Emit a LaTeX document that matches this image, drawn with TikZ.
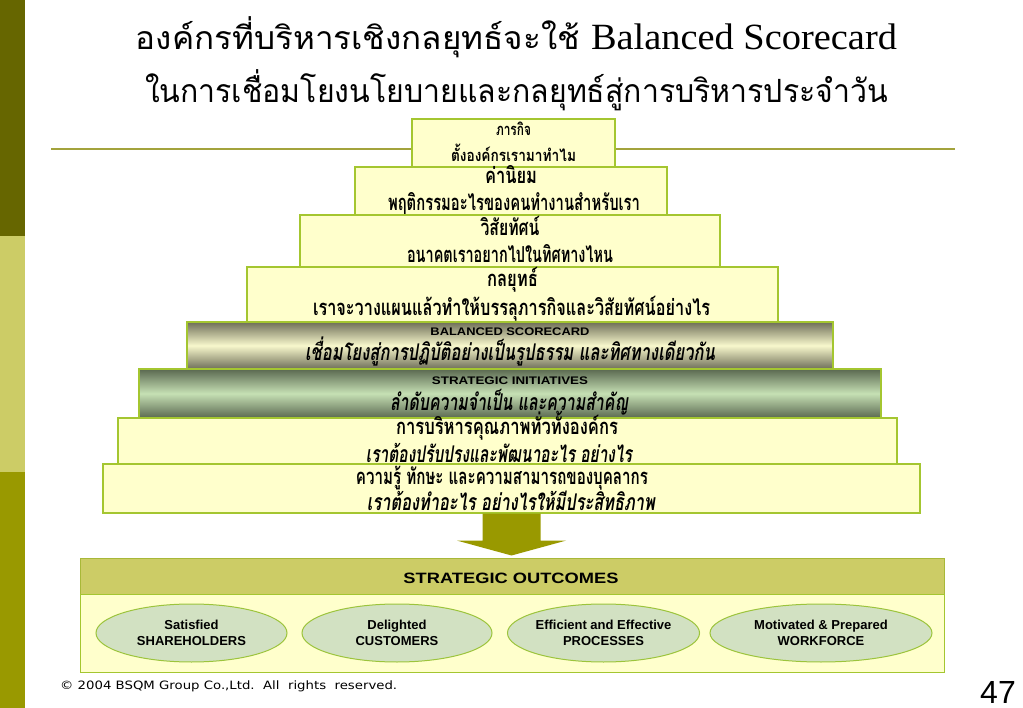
\documentclass[tikz,border=0pt]{standalone}
\usepackage{fontspec}
\usepackage{graphicx}
\usetikzlibrary{calc,shapes.geometric}
\newfontfamily\thai[Script=Thai]{Loma}
\newfontfamily\arialf{Liberation Sans}
\newfontfamily\verd{DejaVu Sans}
\newfontfamily\serifl{Liberation Serif}
\definecolor{barA}{HTML}{666600}
\definecolor{barB}{HTML}{CCCC66}
\definecolor{barC}{HTML}{999900}
\definecolor{rulec}{HTML}{A3A33C}
\definecolor{boxfill}{HTML}{FFFFCC}
\definecolor{boxline}{HTML}{A4C630}
\definecolor{bscdark}{HTML}{6E6E58}
\definecolor{bsclight}{HTML}{F8F8CC}
\definecolor{sidark}{HTML}{5A6850}
\definecolor{silight}{HTML}{C6E0B4}
\definecolor{hdrfill}{HTML}{CCCC66}
\definecolor{hdrline}{HTML}{A8B838}
\definecolor{ellfill}{HTML}{D2E1C2}
\definecolor{ellline}{HTML}{9CC43C}
\definecolor{arrowc}{HTML}{999900}
\newcommand\fw[2]{\resizebox{#1pt}{\height}{#2}}
\tikzset{
  pbox/.style={draw=boxline, fill=boxfill, line width=1.2pt, inner sep=0pt},
  bscbox/.style={draw=boxline, line width=1.2pt, inner sep=0pt, top color=bscdark, bottom color=bscdark, middle color=bsclight},
  sibox/.style={draw=boxline, line width=1.2pt, inner sep=0pt, top color=sidark, bottom color=sidark, middle color=silight},
  thb/.style={font=\thai\bfseries\fontsize{22}{22}\selectfont, inner sep=0pt, anchor=base},
  thsm/.style={font=\thai\bfseries\fontsize{16.5}{16.5}\selectfont, inner sep=0pt, anchor=base},
  thi/.style={font=\thai\bfseries\itshape\fontsize{23}{23}\selectfont, inner sep=0pt, anchor=base},
  engb/.style={font=\arialf\bfseries\fontsize{11}{11}\selectfont, inner sep=0pt, anchor=base},
  outc/.style={ellipse, draw=ellline, fill=ellfill, line width=1pt, inner sep=0pt, align=center,
    font=\arialf\bfseries\fontsize{13}{16}\selectfont},
  titleth/.style={font=\thai\fontsize{32}{32}\selectfont, inner sep=0pt, anchor=base},
}
\begin{document}
\begin{tikzpicture}[x=1pt,y=-1pt]
\useasboundingbox (0,0) rectangle (1023,708);
% left bar
\fill[barA] (0,0) rectangle (25,236);
\fill[barB] (0,236) rectangle (25,472);
\fill[barC] (0,472) rectangle (25,708);
% title
\node[titleth] (t1) at (516.5,50) {\fw{761}{องค์กรที่บริหารเชิงกลยุทธ์จะใช้ {\serifl\fontsize{37}{37}\selectfont Balanced Scorecard}}};
\node[titleth] (t2) at (516.5,103) {\fw{743}{ในการเชื่อมโยงนโยบายและกลยุทธ์สู่การบริหารประจำวัน}};
% rule
\coordinate (rl) at (51,149);
\coordinate (rr) at (955,149);
\draw[rulec, line width=2pt] (rl) -- (rr);
% pyramid
\node[pbox, minimum width=203, minimum height=48] (b1) at (513.5,143) {};
\node[thsm] (b1a) at (513.5,136) {\fw{35}{ภารกิจ}};
\node[thsm] (b1b) at (513.5,162) {\fw{125}{ตั้งองค์กรเรามาทำไม}};
\node[pbox, minimum width=312, minimum height=48] (b2) at (511,191) {};
\node[thb] (b2a) at (511,184) {\fw{52}{ค่านิยม}};
\node[thb] (b2b) at (514,211) {\fw{252}{พฤติกรรมอะไรของคนทำงานสำหรับเรา}};
\node[pbox, minimum width=420, minimum height=52] (b3) at (510,241) {};
\node[thb] (b3a) at (510,236) {\fw{59}{วิสัยทัศน์}};
\node[thb] (b3b) at (510,263) {\fw{206}{อนาคตเราอยากไปในทิศทางไหน}};
\node[pbox, minimum width=531, minimum height=55] (b4) at (512.5,294.5) {};
\node[thb] (b4a) at (512.5,287) {\fw{51}{กลยุทธ์}};
\node[thb] (b4b) at (511.5,316) {\fw{397}{เราจะวางแผนแล้วทำให้บรรลุภารกิจและวิสัยทัศน์อย่างไร}};
\node[bscbox, minimum width=646, minimum height=47] (b5) at (510,345.5) {};
\node[engb] (b5a) at (510,336) {\fw{159}{BALANCED SCORECARD}};
\node[thi] (b5b) at (510,361) {\fw{410}{เชื่อมโยงสู่การปฏิบัติอย่างเป็นรูปธรรม และทิศทางเดียวกัน}};
\node[sibox, minimum width=742, minimum height=49] (b6) at (510,393.5) {};
\node[engb] (b6a) at (510,385) {\fw{156}{STRATEGIC INITIATIVES}};
\node[thi] (b6b) at (509,410) {\fw{238}{ลำดับความจำเป็น และความสำคัญ}};
\node[pbox, minimum width=779, minimum height=46] (b7) at (507.5,441) {};
\node[thb] (b7a) at (507,435) {\fw{222}{การบริหารคุณภาพทั่วทั้งองค์กร}};
\node[thi] (b7b) at (499,462) {\fw{266}{เราต้องปรับปรุงและพัฒนาอะไร อย่างไร}};
\node[pbox, minimum width=817, minimum height=49] (b8) at (511.5,488.5) {};
\node[thb] (b8a) at (502,484) {\fw{292}{ความรู้ ทักษะ และความสามารถของบุคลากร}};
\node[thi] (b8b) at (511,511) {\fw{288}{เราต้องทำอะไร อย่างไรให้มีประสิทธิภาพ}};
% outcomes panel
\node[draw=hdrline, fill=hdrfill, line width=1pt, minimum width=864, minimum height=36, inner sep=0pt] (hdr) at (512,576) {};
\node[font=\arialf\bfseries\fontsize{15}{15}\selectfont, inner sep=0pt, anchor=base] (hdrt) at (511,583) {\fw{215}{STRATEGIC OUTCOMES}};
\node[draw=boxline, fill=boxfill, line width=1pt, minimum width=864, minimum height=78, inner sep=0pt] (body) at (512,633) {};
\node[outc, minimum width=191, minimum height=58] (e1) at (191.5,633) {Satisfied\\SHAREHOLDERS};
\node[outc, minimum width=190, minimum height=58] (e2) at (397,633) {Delighted\\CUSTOMERS};
\node[outc, minimum width=191, minimum height=58] (e3) at (603.5,633) {Efficient and Effective\\PROCESSES};
\node[outc, minimum width=222, minimum height=58] (e4) at (821,633) {Motivated \& Prepared\\WORKFORCE};
% arrow
\fill[arrowc] ($(b8.south)+(-29,0)$) -- ($(b8.south)+(-29,27)$) -- ($(b8.south)+(-54.5,27)$)
  -- ($(hdr.north)+(-0.5,-2)$) -- ($(b8.south)+(54.5,27)$) -- ($(b8.south)+(29,27)$)
  -- ($(b8.south)+(29,0)$) -- cycle;
% footer
\node[font=\verd\fontsize{11.5}{11.5}\selectfont, inner sep=0pt, anchor=base west] (copy) at (60,689) {\fw{337}{© 2004 BSQM Group Co.,Ltd.\ \ All\ \ rights\ \ reserved.}};
\node[font=\arialf\fontsize{32}{32}\selectfont, inner sep=0pt, anchor=base] (pg) at (998,703) {47};
\end{tikzpicture}
\end{document}
